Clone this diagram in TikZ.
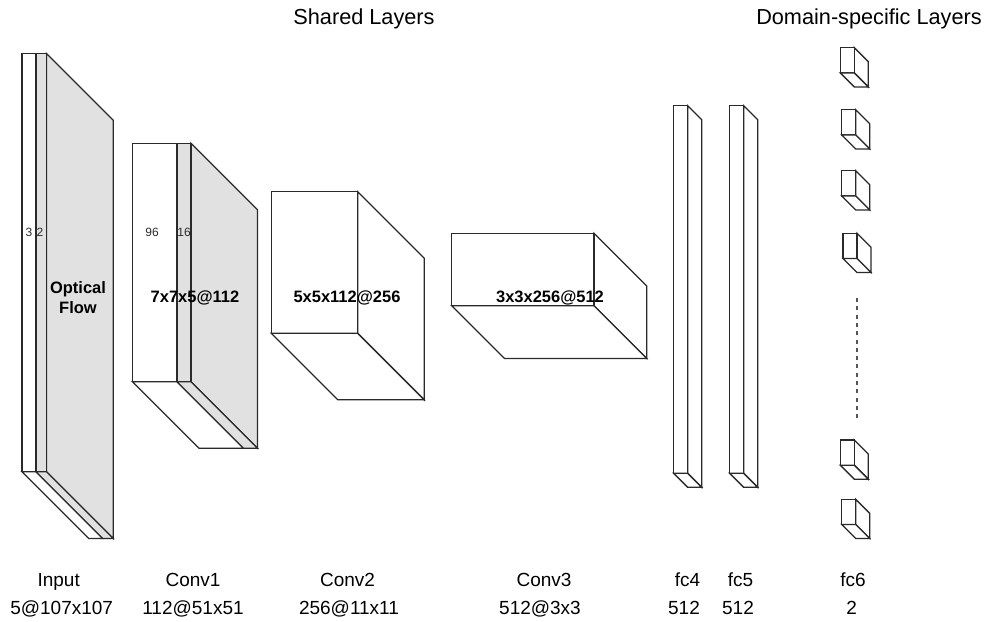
\documentclass[tikz,border=0pt]{standalone}
\usepackage{fontspec}
\setmainfont{Liberation Sans}
\usepackage{xcolor}
\definecolor{ink}{HTML}{2A2A2A}
\definecolor{shade}{HTML}{E1E1E1}
% front cell and bottom face: x1, x2, top, bottom, depth, fill
\newcommand{\slab}[6]{
  \draw[face,fill=#6] (#1,#3) rectangle (#2,#4);
  \draw[face,fill=#6] (#1,#4) -- ++(#5,#5) -- (#2+#5,#4+#5) -- (#2,#4) -- cycle;
}
% side face: x, top, bottom, depth, fill
\newcommand{\flank}[5]{
  \draw[face,fill=#5] (#1,#2) -- (#1+#4,#2+#4) -- (#1+#4,#3+#4) -- (#1,#3) -- cycle;
}
\tikzset{face/.style={draw=ink,line width=1.3pt,line join=miter},
  title/.style={font=\fontsize{21.7}{25}\selectfont,text=black,inner sep=0pt,anchor=base},
  caption/.style={font=\fontsize{19}{22}\selectfont,text=black,inner sep=0pt,anchor=base},
  size/.style={font=\fontsize{12}{14}\selectfont,text=ink,inner sep=0pt},
  inner/.style={font=\bfseries\fontsize{16.5}{20}\selectfont,text=black,inner sep=0pt,align=center},
  kernel/.style={inner,anchor=base}}

\begin{document}
\begin{tikzpicture}[x=1pt,y=-1pt]
\useasboundingbox (0,0) rectangle (987,621);
% input
\flank{46.5}{53.5}{471.7}{66.8}{shade}
\slab{22}{36}{53.5}{471.7}{66.8}{white}
\slab{36}{46.5}{53.5}{471.7}{66.8}{shade}
% conv1
\flank{191}{143.3}{381.7}{66.5}{shade}
\slab{132.5}{177}{143.3}{381.7}{66.5}{white}
\slab{177}{191}{143.3}{381.7}{66.5}{shade}
% conv2 and conv3
\flank{357.7}{191.7}{333.3}{66.5}{white}
\slab{271.3}{357.7}{191.7}{333.3}{66.5}{white}
\flank{594}{233.3}{305.7}{52.7}{white}
\slab{451.7}{594}{233.3}{305.7}{52.7}{white}
% fc4 and fc5
\foreach \px in {673.7,729.7}{
  \flank{\px+14}{105.7}{473.3}{14}{white}
  \slab{\px}{\px+14}{105.7}{473.3}{14}{white}
}
% fc6
\foreach \px/\py in {840.3/47.7,841.7/109.7,841.7/170.7,843/233.3,840.3/440,841.7/499.3}{
  \flank{\px+14}{\py}{\py+25.2}{14}{white}
  \slab{\px}{\px+14}{\py}{\py+25.2}{14}{white}
}
\coordinate (dotstop) at (857,298);
\coordinate (dotsbot) at (857,419.5);
\draw[draw=ink!80,line width=1.3pt,dash pattern=on 4pt off 4.3pt] (dotstop) -- (dotsbot);

\node[title] (shared) at (364,24) {Shared Layers};
\node[title] (domain) at (869,24) {Domain-specific Layers};

\node[size] (ch3) at (29,232.7) {3};
\node[size] (ch2) at (40,232.7) {2};
\node[size] (ch96) at (152,232.7) {96};
\node[size] (ch16) at (184,232.7) {16};

\node[inner] (flow) at (78,297.5) {Optical\\Flow};
\node[kernel] (k1) at (195,302) {7x7x5@112};
\node[kernel] (k2) at (347,302) {5x5x112@256};
\node[kernel] (k3) at (550,302) {3x3x256@512};

\node[caption] (input) at (58.7,586.7) {Input};
\node[caption] (inputsize) at (61.7,614.3) {5@107x107};
\node[caption] (conv1) at (193,586.7) {Conv1};
\node[caption] (conv1size) at (193,614.3) {112@51x51};
\node[caption] (conv2) at (347.5,586.7) {Conv2};
\node[caption] (conv2size) at (349,614.3) {256@11x11};
\node[caption] (conv3) at (544,586.7) {Conv3};
\node[caption] (conv3size) at (540,614.3) {512@3x3};
\node[caption] (fc4) at (687.5,586.7) {fc4};
\node[caption] (fc4size) at (684,614.3) {512};
\node[caption] (fc5) at (740.5,586.7) {fc5};
\node[caption] (fc5size) at (738,614.3) {512};
\node[caption] (fc6) at (853,586.7) {fc6};
\node[caption] (fc6size) at (851.7,614.3) {2};
\end{tikzpicture}
\end{document}
